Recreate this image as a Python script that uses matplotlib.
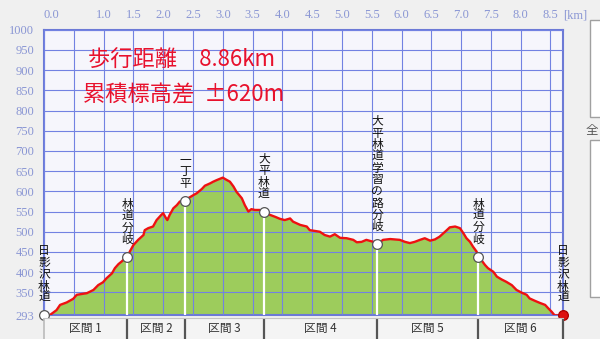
import matplotlib
matplotlib.use('Agg')
import matplotlib.pyplot as plt
from matplotlib.patches import Rectangle

# ---- data ----
dist_km = [0.00, 0.10, 0.21, 0.27, 0.38, 0.49, 0.55, 0.72, 0.83, 0.91, 0.99, 1.05, 1.14, 1.19,
           1.25, 1.30, 1.36, 1.40, 1.44, 1.50, 1.58, 1.67, 1.69, 1.75, 1.83, 1.89, 1.97, 2.00,
           2.05, 2.07, 2.11, 2.17, 2.23, 2.28, 2.37, 2.42, 2.51, 2.56, 2.65, 2.70, 2.79, 2.84,
           2.90, 2.95, 3.00, 3.07, 3.12, 3.18, 3.23, 3.32, 3.37, 3.43, 3.48, 3.54, 3.62, 3.69,
           3.79, 3.88, 3.96, 4.04, 4.13, 4.18, 4.30, 4.41, 4.46, 4.55, 4.63, 4.71, 4.80, 4.88,
           4.97, 5.08, 5.19, 5.25, 5.33, 5.41, 5.53, 5.59, 5.69, 5.81, 5.89, 5.97, 6.06, 6.14,
           6.22, 6.31, 6.39, 6.48, 6.56, 6.64, 6.70, 6.76, 6.81, 6.90, 6.98, 7.04, 7.09, 7.15,
           7.20, 7.26, 7.29, 7.34, 7.40, 7.45, 7.54, 7.60, 7.68, 7.76, 7.85, 7.93, 8.02, 8.10,
           8.15, 8.24, 8.32, 8.41, 8.46, 8.52, 8.57, 8.71]
elev_m = [293, 294, 306, 319, 325, 334, 344, 348, 356, 368, 375, 385, 397, 410,
          420, 426, 434, 437, 451, 467, 480, 492, 504, 509, 513, 529, 542, 546,
          533, 529, 542, 558, 566, 575, 577, 583, 591, 595, 606, 614, 620, 624,
          628, 631, 634, 628, 624, 612, 599, 583, 566, 550, 556, 554, 554, 550,
          542, 537, 532, 529, 533, 525, 517, 513, 504, 502, 500, 492, 488, 494,
          485, 484, 480, 474, 475, 480, 475, 469, 480, 482, 481, 480, 475, 472,
          475, 480, 484, 478, 481, 488, 496, 504, 511, 513, 509, 496, 484, 475,
          463, 451, 438, 430, 418, 410, 401, 389, 382, 376, 368, 356, 349, 344,
          335, 329, 324, 319, 311, 302, 293, 293]

wp_names = ['日影沢林道', '林道分岐', '一丁平', '大平林道', '大平林道学習の路分岐', '林道分岐', '日影沢林道']
wp_km = [0.00, 1.40, 2.37, 3.69, 5.59, 7.29, 8.71]
wp_elev = [293, 437, 577, 550, 469, 438, 293]

section_labels = ['区間 1', '区間 2', '区間 3', '区間 4', '区間 5', '区間 6']

y_ticks = [293, 350, 400, 450, 500, 550, 600, 650, 700, 750, 800, 850, 900, 950, 1000]
x_ticks = [0.0, 0.5, 1.0, 1.5, 2.0, 2.5, 3.0, 3.5, 4.0, 4.5, 5.0, 5.5, 6.0, 6.5, 7.0, 7.5, 8.0, 8.5]
x_tick_labels = ['0.0', '', '1.0', '1.5', '2.0', '2.5', '3.0', '3.5', '4.0', '4.5', '5.0',
                 '5.5', '6.0', '6.5', '7.0', '7.5', '8.0', '8.5']
x_unit = '[km]'

summary_lines = ['歩行距離　8.86km', '累積標高差  ±620m']

# ---- figure ----
W, H = 600, 339
CJK = ['Noto Sans CJK JP', 'DejaVu Sans']
fig = plt.figure(figsize=(W / 100, H / 100), dpi=100, facecolor='#f0f0f0')


def px(x0, y0, x1, y1):
    return [x0 / W, 1 - y1 / H, (x1 - x0) / W, (y1 - y0) / H]


ax = fig.add_axes(px(44, 29.8, 563, 315.4))
ax.set_facecolor('#f6f6fc')
ax.set_xlim(0, wp_km[-1])
ax.set_ylim(y_ticks[0], y_ticks[-1])

ax.fill_between(dist_km, elev_m, y_ticks[0], color='#9dcc5c', lw=0, zorder=1)
ax.set_axisbelow(False)
ax.grid(True, color='#7282e2', lw=0.8)
ax.vlines(wp_km[1:-1], y_ticks[0], wp_elev[1:-1], color='white', lw=1.6, zorder=2.7)
ax.plot(dist_km, elev_m, color='#ee1111', lw=1.7, zorder=3, solid_joinstyle='round')
ax.plot(wp_km[:-1], wp_elev[:-1], 'o', ms=7, mfc='white', mec='#555555', mew=0.9,
        zorder=4, clip_on=False)
ax.plot(wp_km[-1:], wp_elev[-1:], 'o', ms=7, mfc='#dd1111', mec='#aa0000', mew=0.9,
        zorder=4, clip_on=False)

for sp in ax.spines.values():
    sp.set_color('#6c7ad6')
    sp.set_linewidth(1.5)

ax.xaxis.tick_top()
ax.set_xticks(x_ticks)
ax.set_xticklabels(x_tick_labels)
ax.set_yticks(y_ticks)
ax.set_yticklabels([str(v) for v in y_ticks])
ax.tick_params(axis='both', length=0, colors='#8a96d4', labelsize=9)
ax.tick_params(axis='x', pad=6)
ax.tick_params(axis='y', pad=7)
for lab in ax.get_xticklabels() + ax.get_yticklabels():
    lab.set_fontfamily('Liberation Serif')
ax.get_xticklabels()[0].set_horizontalalignment('left')
ax.annotate(x_unit, xy=(1.0, 1.0), xycoords='axes fraction', xytext=(0, 6),
            textcoords='offset points', ha='left', va='bottom', color='#8a96d4',
            fontsize=9, family='Liberation Serif', annotation_clip=False)

for name, k, e in zip(wp_names, wp_km, wp_elev):
    ax.annotate('\n'.join(name), xy=(k, e), xytext=(0, 8), textcoords='offset points',
                ha='center', va='bottom', fontsize=8.5, family=CJK, linespacing=0.87,
                color='#111111', zorder=5, annotation_clip=False)

fig.text(88 / W, 1 - 60 / H, summary_lines[0], color='#e8112d', fontsize=16,
         ha='left', va='center', family=CJK)
fig.text(83 / W, 1 - 95 / H, summary_lines[1], color='#e8112d', fontsize=16,
         ha='left', va='center', family=CJK)

# ---- section band ----
axb = fig.add_axes(px(44, 318, 563, 339))
axb.set_facecolor('#f4f4f4')
axb.set_xlim(0, wp_km[-1])
axb.set_ylim(0, 1)
axb.set_xticks([])
axb.set_yticks([])
for k, sp in axb.spines.items():
    sp.set_visible(k == 'top')
axb.spines['top'].set_color('#c4c4c4')
axb.vlines(wp_km[:1], 0, 1, color='#bbbbbb', lw=1.2, clip_on=False)
axb.vlines(wp_km[1:], 0, 1, color='#555555', lw=1.6, clip_on=False)
for i, lab in enumerate(section_labels):
    mid = (wp_km[i] + wp_km[i + 1]) / 2
    axb.text(mid, 0.48, lab, ha='center', va='center', fontsize=8.5, family=CJK,
             color='#333333')

# ---- fragment of side panel at the right edge ----
for y0, y1 in [(20, 117), (140, 297)]:
    fig.patches.append(Rectangle((590 / W, 1 - y1 / H), 20 / W, (y1 - y0) / H,
                                 transform=fig.transFigure, facecolor='white',
                                 edgecolor='#a0a0a0', lw=1))
fig.text(586 / W, 1 - 130 / H, '全', fontsize=9, color='#555555', ha='left',
         va='center', family=CJK)

fig.savefig('out.png', dpi=100, facecolor=fig.get_facecolor())
